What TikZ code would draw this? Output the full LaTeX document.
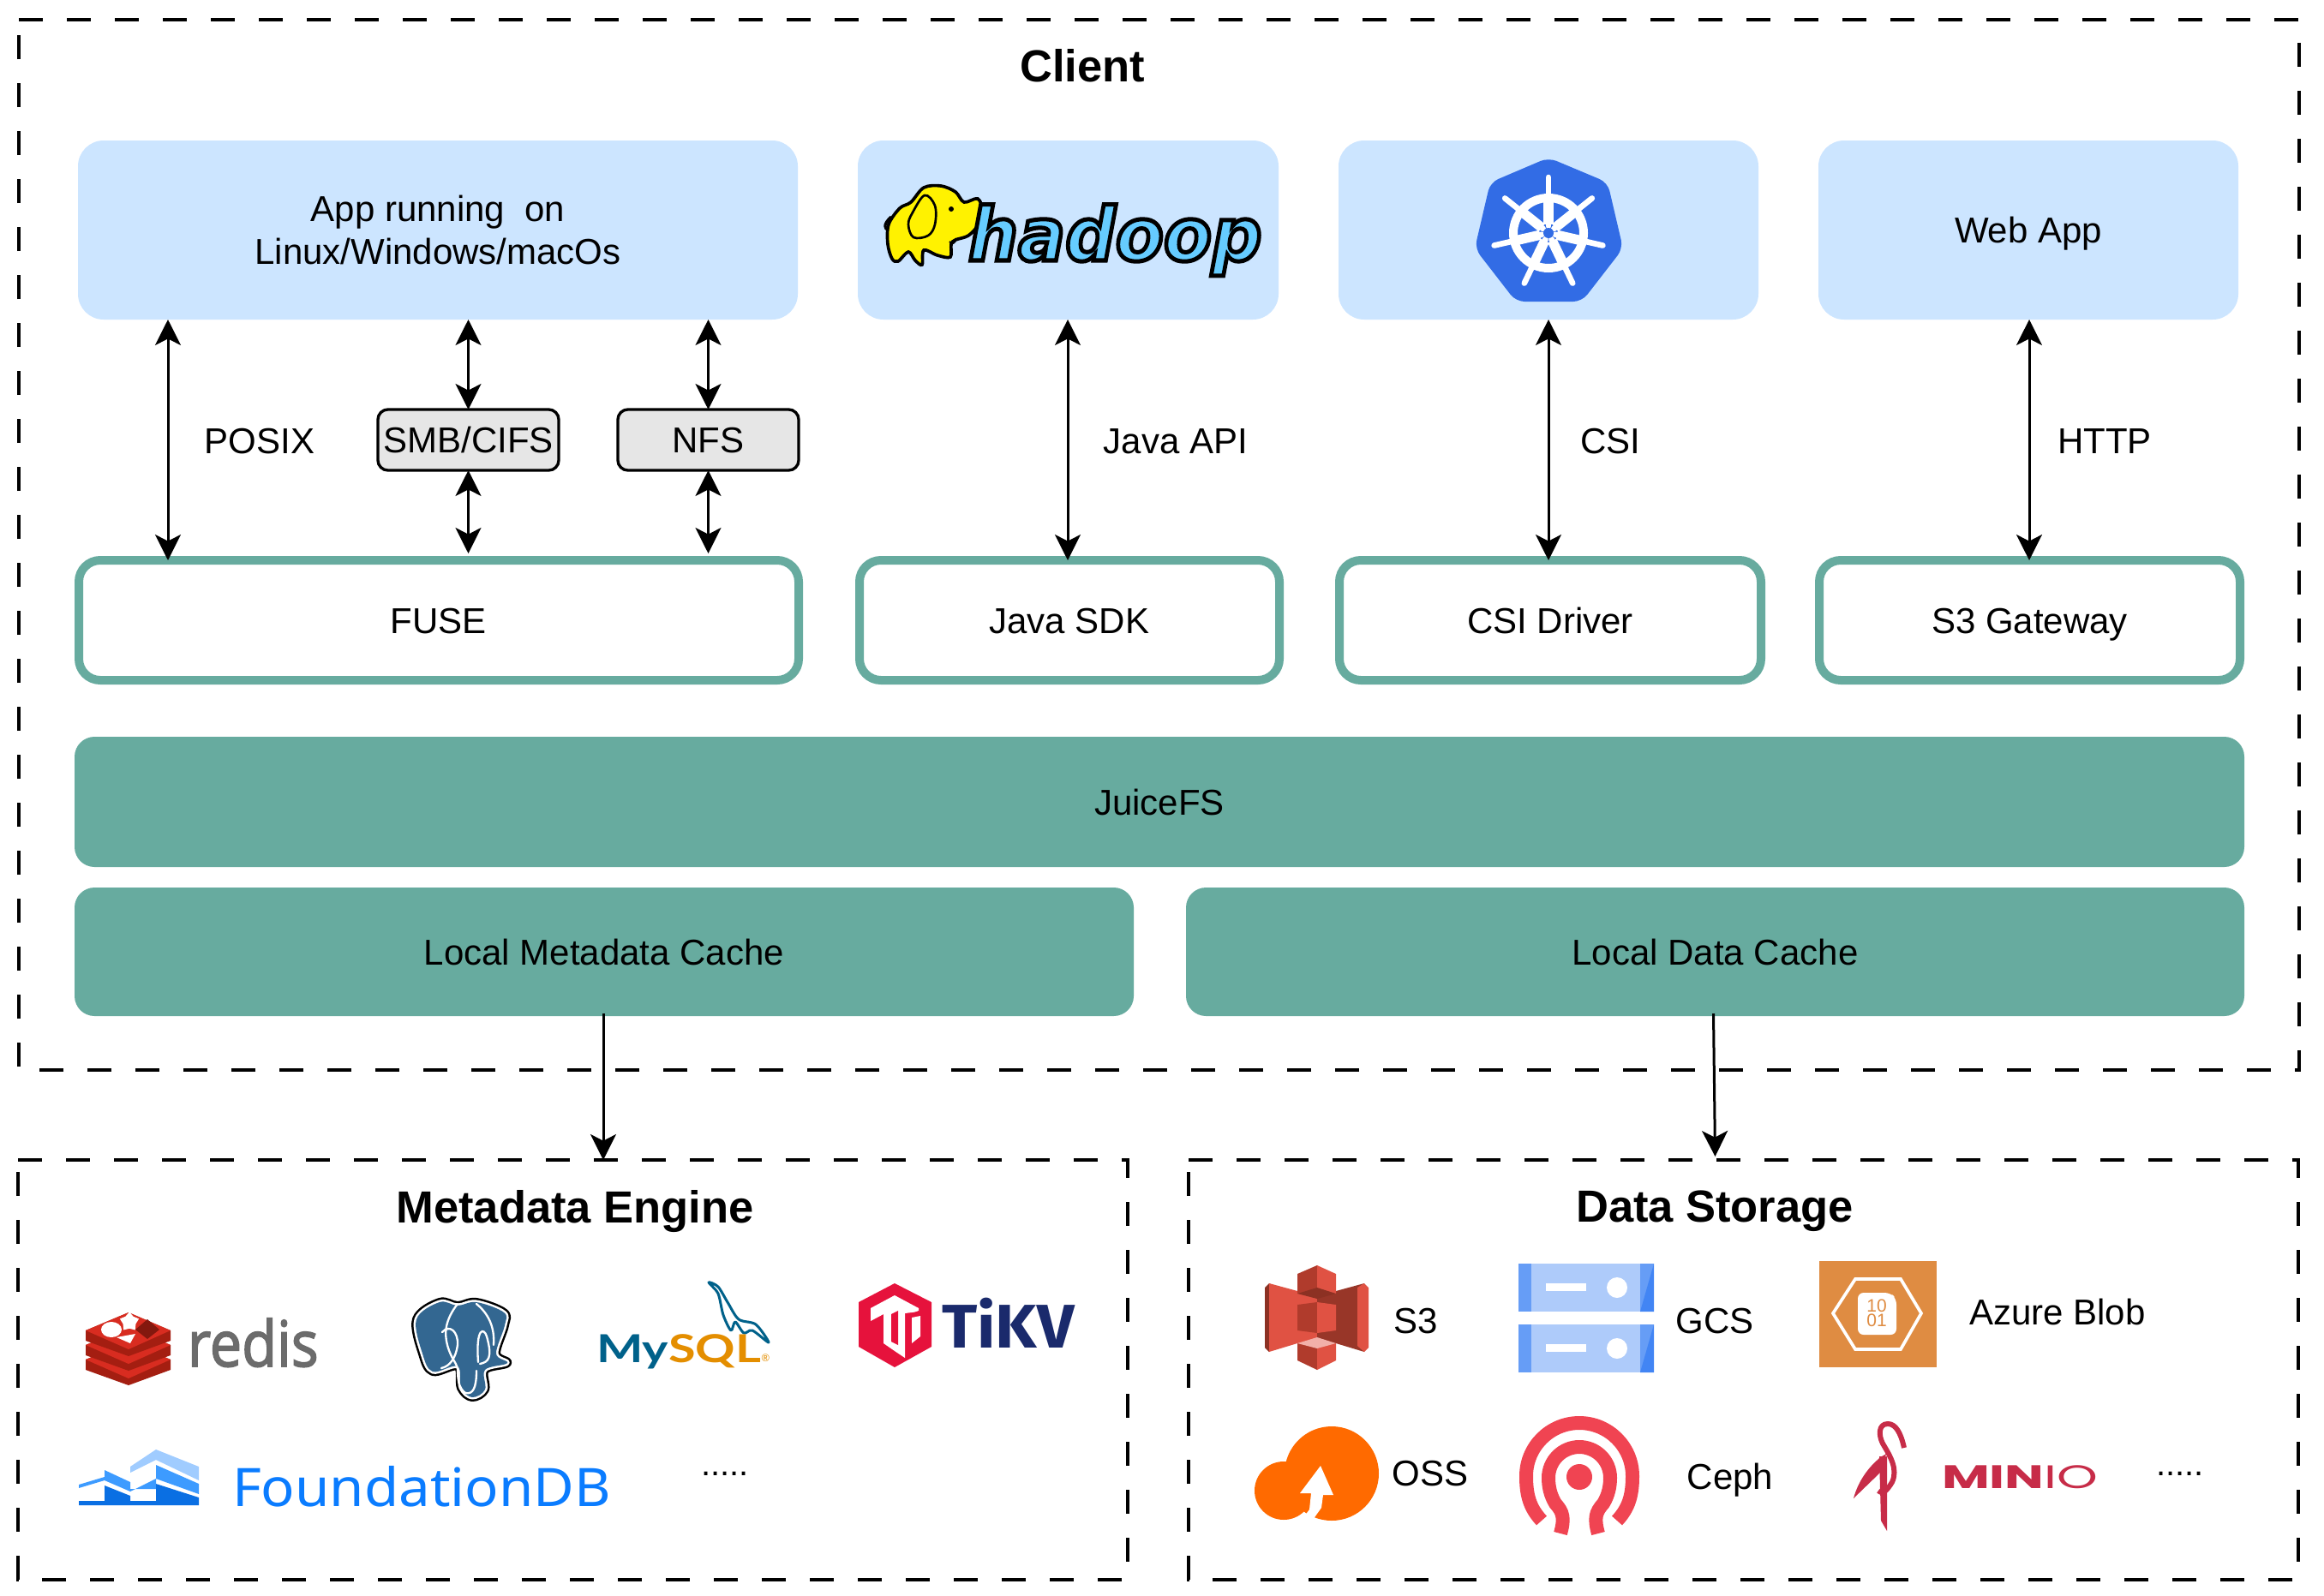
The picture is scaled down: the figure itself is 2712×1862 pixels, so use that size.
\documentclass[tikz,border=0pt]{standalone}
\usepackage{fontspec}
\usepackage{graphicx}
\setmainfont{Liberation Sans}
\newfontfamily\dvb{DejaVu Sans}
\newfontfamily\opn{Open Sans}
\newfontfamily\fir{Fira Sans}
\newfontfamily\nts{Noto Sans}
\newfontfamily\lat{Lato}
\newfontfamily\pop{Poppins}
\usetikzlibrary{arrows.meta,shapes.geometric,calc}
\definecolor{appblue}{HTML}{CCE5FF}
\definecolor{jgreen}{HTML}{67AB9F}
\definecolor{smbgrey}{HTML}{E6E6E6}
\definecolor{rlight}{HTML}{D82C20}
\definecolor{rdark}{HTML}{A41E11}
\definecolor{pgblue}{HTML}{336791}
\definecolor{mysqlb}{HTML}{00618A}
\definecolor{mysqlo}{HTML}{E48E00}
\definecolor{tikvr}{HTML}{E6123C}
\definecolor{tikvb}{HTML}{1A2A6C}
\definecolor{fdbl}{HTML}{A0CCFF}
\definecolor{fdbm}{HTML}{3D9BFF}
\definecolor{fdbd}{HTML}{0A6FE3}
\definecolor{fdbt}{HTML}{0A7CFF}
\definecolor{s3l}{HTML}{E05243}
\definecolor{s3m}{HTML}{B03B2C}
\definecolor{s3d}{HTML}{8C3123}
\definecolor{s3p}{HTML}{F2B0A9}
\definecolor{gl}{HTML}{AECBFA}
\definecolor{gm}{HTML}{669DF6}
\definecolor{gd}{HTML}{4285F4}
\definecolor{azo}{HTML}{DF8C42}
\definecolor{ossc}{HTML}{FF6A00}
\definecolor{cephc}{HTML}{F04452}
\definecolor{minc}{HTML}{C72C48}
\definecolor{hdb}{HTML}{66CCFF}
\definecolor{k8s}{HTML}{326CE5}
\newcommand{\fpx}[1]{\pgfmathsetmacro\fpxs{#1*0.3}\fontsize{\fpxs}{\fpxs}\selectfont}
\newcommand{\txtreg}{\fontsize{12.6}{15}\selectfont}
\newcommand{\txtbold}{\fontsize{15.75}{18}\selectfont\bfseries}
\tikzset{
  x=0.3pt,y=-0.3pt,
  bx/.style={inner sep=0pt,outer sep=0pt,align=center,font=\txtreg},
  appbox/.style={bx,fill=appblue,rounded corners=9pt},
  sdkbox/.style={bx,draw=jgreen,line width=3pt,fill=white,rounded corners=7.5pt},
  greenbox/.style={bx,fill=jgreen,rounded corners=7pt},
  protobox/.style={bx,draw=black,line width=1pt,fill=smbgrey,rounded corners=3.5pt},
  region/.style={bx},
  regionline/.style={line width=1pt,dash pattern=on 8.4pt off 8.4pt},
  label/.style={inner sep=0pt,outer sep=0pt,font=\txtreg},
  title/.style={inner sep=0pt,outer sep=0pt,font=\txtbold},
  logotext/.style={inner sep=0pt,outer sep=0pt,anchor=base west},
  conn/.style={line width=0.9pt,>={Stealth[length=9pt,width=9pt,inset=2.3pt]}},
}
% name,style,x1,y1,x2,y2,text : one line of text, its capitals centred in the box
\newcommand{\bnode}[7]{%
  \node[#2,minimum width={(#5-#3)*0.3pt},minimum height={(#6-#4)*0.3pt}] (#1) at ({(#3+#5)/2},{(#4+#6)/2}) {\rule{0pt}{9pt}\smash{#7}};}
\newcommand{\pgelephant}{plot[smooth cycle,tension=0.6] coordinates{(513,1520)(486,1540)(493,1580)(505,1601)(534,1595)(538,1620)(551,1631)(566,1622)(566,1599)(592,1591)(579,1580)(589,1547)(588,1532)(556,1520)(534,1524)}}
\begin{document}
\begin{tikzpicture}
\useasboundingbox (0,0) rectangle (2712,1862);
\fill[white] (0,0) rectangle (2712,1862);

% regions
\bnode{client}{region}{22}{23}{2683}{1249}{}
\bnode{meta}{region}{21}{1354}{1316}{1844}{}
\bnode{data}{region}{1387}{1354}{2682}{1844}{}
\foreach \r in {client,meta,data}{
  \draw[regionline] (\r.north west) -- (\r.north east) -- (\r.south east) -- (\r.south west) -- cycle;
}
\node[title] (tclient) at (1263,77) {Client};
\node[title] (tmeta) at (671,1414) {Metadata Engine};
\node[title] (tdata) at (2001,1414) {Data Storage};

% application boxes
\node[appbox,minimum width={840*0.3pt},minimum height={209*0.3pt}] (app) at (511,268.5) {App running~~on\\Linux/Windows/macOs};
\bnode{hadoopbox}{appbox}{1001}{164}{1492}{373}{}
\bnode{kube}{appbox}{1562}{164}{2052}{373}{}
\bnode{web}{appbox}{2122}{164}{2612}{373}{Web App}

% SDK boxes
\bnode{fuse}{sdkbox}{92}{654}{932}{794}{FUSE}
\bnode{java}{sdkbox}{1003}{654}{1493}{794}{Java SDK}
\bnode{csi}{sdkbox}{1563}{654}{2055}{794}{CSI Driver}
\bnode{s3gw}{sdkbox}{2123}{654}{2614}{794}{S3 Gateway}

% green bars
\bnode{juice}{greenbox}{87}{860}{2619}{1012}{JuiceFS}
\bnode{lmc}{greenbox}{87}{1036}{1323}{1186}{Local Metadata Cache}
\bnode{ldc}{greenbox}{1384}{1036}{2619}{1186}{Local Data Cache}

% protocol boxes
\bnode{smb}{protobox}{441}{478}{652}{549}{SMB/CIFS}
\bnode{nfs}{protobox}{721}{478}{932}{549}{NFS}

% connector x positions
\coordinate (xposix) at (196,0);
\coordinate (xjava) at (1246,0);
\coordinate (xcsi) at (1807,0);
\coordinate (xweb) at (2368,0);
\draw[conn,<->] (app.south -| xposix) -- (fuse.north -| xposix);
\draw[conn,<->] (app.south -| smb.north) -- (smb.north);
\draw[conn,<->] (app.south -| nfs.north) -- (nfs.north);
\draw[conn,<->,shorten >=2.4pt] (smb.south) -- (fuse.north -| smb.south);
\draw[conn,<->,shorten >=2.4pt] (nfs.south) -- (fuse.north -| nfs.south);
\draw[conn,<->] (hadoopbox.south -| xjava) -- (java.north -| xjava);
\draw[conn,<->] (kube.south -| xcsi) -- (csi.north -| xcsi);
\draw[conn,<->] (web.south -| xweb) -- (s3gw.north -| xweb);
\draw[conn,->] ($(lmc.south)+(-1,-3)$) -- ([xshift=-0.3pt]lmc.south |- meta.north);
\draw[conn,->] ($(ldc.south)+(-2,-3)$) -- ([xshift=0pt,yshift=1.2pt]ldc.south |- data.north);

% protocol labels
\node[label] (lposix) at (303,515) {POSIX};
\node[label] (ljava) at (1372,515) {Java API};
\node[label] (lcsi) at (1879,515) {CSI};
\node[label] (lhttp) at (2456,515) {HTTP};

% hadoop elephant
\draw[black,line width=1pt,line join=round] (1040,253) .. controls (1030,262) and (1032,268) .. (1037,268);
\fill[yellow,draw=black,line width=1.1pt] plot[smooth cycle,tension=0.55] coordinates{(1098,217)(1115,224)(1125,236)(1141,232)(1147,247)(1142,262)(1130,275)(1115,280)(1110,285)(1109,300)(1094,298)(1078,292)(1076,309)(1068,304)(1060,294)(1048,305)(1041,302)(1036,285)(1037,262)(1050,243)(1063,236)(1078,219)};
\fill[yellow,draw=black,line width=0.8pt] plot[smooth cycle,tension=0.6] coordinates{(1079,228)(1065,248)(1060,262)(1066,277)(1083,275)(1091,262)(1091,240)};
\fill[black] (1110,244) circle (3);
\draw[black,line width=0.6pt] (1108,282) .. controls (1111,286) and (1115,284) .. (1116,278);
% hadoop word
\node[logotext] (hadooplogo) at (1130,304) {\fpx{86}\dvb\bfseries\itshape\color{hdb}\scalebox{0.95}[1]{\special{pdf:code 0 0 0 RG 2 Tr 1.5 w}hadoop\special{pdf:code 0 Tr}}};

% kubernetes
\fill[k8s,rounded corners=3pt] (1807,184) -- (1876,213) -- (1894,290) -- (1846,352) -- (1769,352) -- (1721,290) -- (1739,213) -- cycle;
\draw[white,line width=3pt] (1807,272) circle (41);
\foreach \a in {-90,-38.6,12.9,64.3,115.7,167.1,-141.4}{
  \draw[white,line width=2pt,line cap=round] (1807,272) ++(\a:8) -- ++(\a:57);
  \draw[white,line width=3.4pt] (1807,272) ++(\a:10) -- ++(\a:28);
}
\fill[k8s] (1807,272) circle (6);

% redis
\foreach \d in {34,17,0}{
  \fill[rdark] (100,{1553+\d}) -- (150,{1532+\d}) -- (199,{1553+\d}) -- (199,{1565+\d}) -- (150,{1583+\d}) -- (100,{1565+\d}) -- cycle;
  \fill[rlight] (100,{1553+\d}) -- (150,{1532+\d}) -- (199,{1553+\d}) -- (150,{1575+\d}) -- cycle;
}
\node[star,star points=5,fill=white,inner sep=0pt,minimum size=7pt] (rstar) at (151,1543) {};
\fill[white] (130,1552) ellipse [x radius=12,y radius=9];
\fill[white] (158,1557) -- (136,1561) -- (152,1568) -- cycle;
\fill[rdark!80!black] (172,1540) -- (186,1552) -- (172,1563) -- (158,1552) -- cycle;
\node[logotext] (redis) at (219,1595) {\fpx{74}\opn\color[HTML]{6C6C6C}\special{pdf:code 0.42 0.42 0.42 RG 2 Tr 0.5 w}\scalebox{0.9}[1]{redis}\special{pdf:code 0 Tr}};

% postgres
\draw[black,line width=3pt,line join=round] \pgelephant;
\draw[white,line width=1.5pt,line join=round] \pgelephant;
\fill[pgblue] \pgelephant;
\draw[white,line width=0.7pt,line cap=round] (534,1522) .. controls (520,1540) and (518,1555) .. (522,1570) .. controls (526,1585) and (532,1590) .. (534,1597) .. controls (534,1610) and (535,1620) .. (543,1626) .. controls (552,1628) and (556,1620) .. (556,1600);
\draw[white,line width=0.7pt,line cap=round] (516,1555) .. controls (525,1545) and (535,1555) .. (534,1570) .. controls (532,1585) and (525,1595) .. (515,1597);
\draw[white,line width=0.7pt,line cap=round] (560,1592) .. controls (570,1590) and (575,1585) .. (568,1560) .. controls (565,1550) and (555,1548) .. (558,1590);
\draw[white,line width=0.7pt,line cap=round] (556,1522) .. controls (566,1530) and (578,1545) .. (576,1570);

% mysql
\fill[white,draw=mysqlb,line width=0.9pt,line join=round] plot[smooth cycle,tension=0.5] coordinates{(827,1497)(838,1502)(849,1520)(862,1540)(882,1546)(897,1567)(878,1553)(868,1556)(858,1543)(853,1553)(844,1535)(838,1510)};
\node[logotext] (mysqllogo) at (696,1590) {\fpx{45}\lat\scalebox{1.28}[1]{\textbf{\color{mysqlb}My\color{mysqlo}SQL}}\fpx{12}\color{mysqlo}\raisebox{0.3pt}{®}};

% tikv
\fill[tikvr] (1044,1498) -- (1087,1520) -- (1087,1572) -- (1044,1596) -- (1002,1572) -- (1002,1520) -- cycle;
\fill[white] (1044,1512) -- (1072,1527) -- (1072,1531) -- (1056,1533) -- (1056,1585) -- (1044,1577) -- (1031,1568) -- (1031,1534) -- (1016,1542) -- (1016,1527) -- cycle;
\fill[tikvr] (1040,1534) -- (1048,1530) -- (1048,1570) -- (1040,1566) -- cycle;
\fill[tikvr] (1060,1535) -- (1072,1530) -- (1072,1562) -- (1060,1574) -- cycle;
\fill[white] (1064,1538) -- (1074,1536) -- (1074,1560) -- (1064,1568) -- cycle;
\node[logotext] (tikv) at (1099,1573) {\fpx{72}\fir\bfseries\color{tikvb}\scalebox{1.06}[1]{TiKV}};

% foundationdb
\fill[fdbl] (182,1692) -- (232,1712) -- (232,1728) -- (182,1704) -- (152,1719) -- (152,1712) -- cycle;
\fill[fdbm] (122,1716) -- (152,1730) -- (152,1738) -- (182,1738) -- (182,1710) -- (232,1732) -- (232,1744) -- (182,1726) -- (152,1741) -- (122,1728) -- (92,1737) -- (92,1733) -- (122,1724) -- cycle;
\fill[fdbd] (92,1752) -- (122,1752) -- (122,1734) -- (152,1746) -- (152,1752) -- (182,1752) -- (182,1732) -- (232,1748) -- (232,1757) -- (92,1757) -- cycle;
\node[logotext] (fdb) at (271,1758) {\fpx{62}\nts\bfseries\color{fdbt}\scalebox{1.055}[1]{FoundationDB}};

% dots
\node[label,font=\fpx{40}] (dots1) at (846,1720) {.....};
\node[label,font=\fpx{40}] (dots2) at (2544,1720) {.....};

% S3
\fill[s3l] (1514,1500) rectangle (1537,1575);
\fill[s3d!85!s3l] (1537,1500) rectangle (1559,1575);
\fill[s3d] (1476,1503) -- (1481,1498) -- (1490,1503) -- (1490,1571) -- (1481,1578) -- (1476,1573) -- cycle;
\fill[s3l] (1481,1498) -- (1514,1507) -- (1514,1568) -- (1481,1578) -- cycle;
\fill[s3d!85!s3l] (1592,1498) -- (1559,1507) -- (1559,1568) -- (1592,1578) -- cycle;
\fill[s3l] (1597,1503) -- (1592,1498) -- (1584,1503) -- (1584,1571) -- (1592,1578) -- (1597,1573) -- cycle;
\fill[s3m] (1514,1487) -- (1537,1477) -- (1537,1507) -- (1514,1510) -- cycle;
\fill[s3l] (1559,1487) -- (1537,1477) -- (1537,1507) -- (1559,1510) -- cycle;
\fill[s3d] (1514,1510) -- (1537,1503) -- (1559,1510) -- (1537,1516) -- cycle;
\fill[s3m] (1514,1523) -- (1537,1520) -- (1537,1556) -- (1514,1553) -- cycle;
\fill[s3l] (1559,1523) -- (1537,1520) -- (1537,1556) -- (1559,1553) -- cycle;
\fill[s3m] (1514,1568) -- (1537,1572) -- (1537,1599) -- (1514,1588) -- cycle;
\fill[s3l] (1559,1568) -- (1537,1572) -- (1537,1599) -- (1559,1588) -- cycle;
\fill[s3p] (1514,1568) -- (1537,1561) -- (1559,1568) -- (1537,1574) -- cycle;
\node[label] (ls3) at (1652,1542) {S3};

% GCS
\foreach \y in {1475,1546}{
  \fill[gl] (1772,\y) rectangle (1930,{\y+56});
  \fill[gm] (1772,\y) rectangle (1787,{\y+56});
  \fill[gm] (1914,\y) rectangle (1930,{\y+56});
  \fill[gd] (1930,\y) -- (1930,{\y+56}) -- (1914,{\y+56}) -- cycle;
  \fill[white] (1804,{\y+23}) rectangle (1851,{\y+32});
  \fill[white] (1887,{\y+28}) ellipse [x radius=12,y radius=12];
}
\node[label] (lgcs) at (2001,1542) {GCS};

% Azure
\fill[azo] (2123,1472) rectangle (2260,1596);
\draw[white,line width=1.1pt] (2139,1533) -- (2165,1493) -- (2218,1493) -- (2242,1533) -- (2218,1575) -- (2165,1575) -- cycle;
\fill[white,rounded corners=2pt] (2168,1509) -- (2206,1509) -- (2213,1516) -- (2213,1558) -- (2168,1558) -- cycle;
\node[inner sep=0pt,font=\fpx{21},text=azo,align=center] (azdigits) at (2190,1533) {10\\[-1.2pt]01};
\node[label] (lazure) at (2401,1531) {Azure Blob};

% OSS
\fill[ossc] (1554,1720) circle (55);
\fill[ossc] (1498,1740) circle (34);
\fill[white] (1541,1711) -- (1556,1745) -- (1544,1745) -- (1542,1760) -- (1532,1774) -- (1520,1773) -- (1528,1762) -- (1530,1743) -- (1517,1743) -- cycle;
\node[label] (loss) at (1669,1720) {OSS};

% Ceph
\fill[cephc] (1843,1724) circle (15);
\draw[cephc,line width=4.8pt] (1799,1775) .. controls (1785,1760) and (1781,1745) .. (1781,1723) arc[start angle=180,end angle=360,radius=62] .. controls (1905,1745) and (1901,1760) .. (1887,1775);
\draw[cephc,line width=4.8pt] (1821,1790) .. controls (1826,1772) and (1824,1765) .. (1815,1755) .. controls (1809,1745) and (1807,1735) .. (1807,1725) arc[start angle=180,end angle=360,radius=36] .. controls (1879,1735) and (1877,1745) .. (1871,1755) .. controls (1862,1765) and (1860,1772) .. (1865,1790);
\node[label] (lceph) at (2019,1728) {Ceph};

% MinIO
\fill[minc] (2193,1700) -- (2202,1700) -- (2202,1787) -- (2195,1775) -- cycle;
\draw[minc,line width=1.8pt,line join=round] (2222,1690) .. controls (2218,1672) and (2212,1662) .. (2203,1662) .. controls (2192,1662) and (2192,1675) .. (2197,1685) .. controls (2206,1700) and (2215,1715) .. (2208,1730) .. controls (2202,1740) and (2197,1745) .. (2192,1740);
\fill[minc] (2203,1696) -- (2196,1700) .. controls (2180,1712) and (2168,1730) .. (2163,1749) -- (2195,1718) -- (2195,1700) .. controls (2180,1715) and (2172,1728) .. (2170,1735) -- cycle;
\node[logotext] (minio) at (2266,1737) {\fpx{38}\pop\color{minc}\scalebox{1.6}[1]{\textbf{MIN}IO}};
\end{tikzpicture}
\end{document}
